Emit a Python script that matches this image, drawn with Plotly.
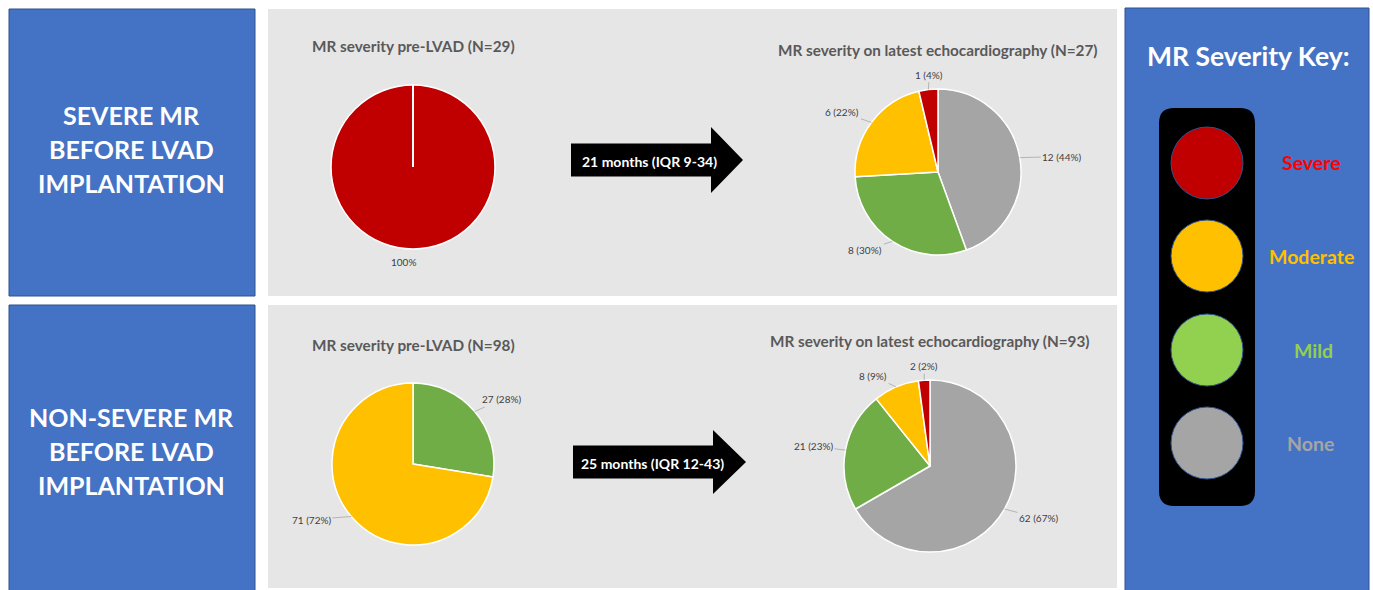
import math
import plotly.graph_objects as go

W, H = 1373, 590

# ---- data -------------------------------------------------------------
severe_pre_labels = ["Severe"]
severe_pre_counts = [29]

severe_latest_labels = ["None", "Mild", "Moderate", "Severe"]
severe_latest_counts = [12, 8, 6, 1]

nonsevere_pre_labels = ["Mild", "Moderate"]
nonsevere_pre_counts = [27, 71]

nonsevere_latest_labels = ["None", "Mild", "Moderate", "Severe"]
nonsevere_latest_counts = [62, 21, 8, 2]

pie_titles = [
    "MR severity pre-LVAD (N=29)",
    "MR severity on latest echocardiography (N=27)",
    "MR severity pre-LVAD (N=98)",
    "MR severity on latest echocardiography (N=93)",
]
followup_texts = ["21 months (IQR 9-34)", "25 months (IQR 12-43)"]
row_headers = [
    ["SEVERE MR", "BEFORE LVAD", "IMPLANTATION"],
    ["NON-SEVERE MR", "BEFORE LVAD", "IMPLANTATION"],
]
key_levels = ["Severe", "Moderate", "Mild", "None"]

# ---- styles -----------------------------------------------------------
FONT = "Lato"
BLUE = "#4472C4"
BLUE_EDGE = "#2F528F"
PANEL = "#E7E6E6"
TITLE_GREY = "#595959"
LABEL_GREY = "#404040"
LEADER = "#A6A6A6"
slice_colors = {"Severe": "#C00000", "Moderate": "#FFC000", "Mild": "#70AD47", "None": "#A5A5A5"}
key_fill = {"Severe": "#C00000", "Moderate": "#FFC000", "Mild": "#92D050", "None": "#A5A5A5"}
key_font = {"Severe": "#FF0000", "Moderate": "#FFC000", "Mild": "#92D050", "None": "#A5A5A5"}


def fx(x):
    return x / W


def fy(y):
    return 1 - y / H


def label(x, y, text, size, color, bold=False, **kw):
    """Centred text placed at pixel position (x, y)."""
    font = dict(family=FONT, size=size, color=color)
    if bold:
        font["weight"] = "bold"
    d = dict(x=fx(x), y=fy(y), xref="paper", yref="paper", text=text,
             showarrow=False, xanchor="center", yanchor="middle", font=font)
    d.update(kw)
    return d


# pie layout: centre (px), radius (px), title y, label offsets (px) per slice
pies = [
    dict(labels=severe_pre_labels, values=severe_pre_counts, cx=413, cy=167, r=82,
         title_y=46, offsets=[(-10, 13)], pct_only=True),
    dict(labels=severe_latest_labels, values=severe_latest_counts, cx=938, cy=172, r=83,
         title_y=50, offsets=[(42, -1), (-27, 9), (-29, -10), (1, -15)], pct_only=False),
    dict(labels=nonsevere_pre_labels, values=nonsevere_pre_counts, cx=413, cy=464, r=81,
         title_y=345, offsets=[(27, -12), (-40, 3)], pct_only=False),
    dict(labels=nonsevere_latest_labels, values=nonsevere_latest_counts, cx=930, cy=466, r=86,
         title_y=341, offsets=[(34, 9), (-32, -4), (-23, -11), (0, -14)], pct_only=False),
]

fig = go.Figure()
shapes = []
annotations = []

# ---- background boxes ---------------------------------------------------
def rect(x0, y0, x1, y1, fill, line=None, layer="below"):
    shapes.append(dict(type="rect", xref="paper", yref="paper",
                       x0=fx(x0), x1=fx(x1), y0=fy(y1), y1=fy(y0),
                       fillcolor=fill,
                       line=dict(color=line or fill, width=1 if line else 0),
                       layer=layer))

rect(9, 9, 255, 296, BLUE, BLUE_EDGE)
rect(9, 305, 255, 591, BLUE, BLUE_EDGE)
rect(268, 9, 1117, 296, PANEL)
rect(268, 305, 1117, 588, PANEL)
rect(1125, 8, 1369, 591, BLUE, BLUE_EDGE)

# ---- row headers --------------------------------------------------------
header_rows_y = [[115, 149, 183], [417, 451, 485]]
for lines, ys in zip(row_headers, header_rows_y):
    for txt, yy in zip(lines, ys):
        annotations.append(label(131, yy, txt, 25, "white", bold=True))

# ---- pies ---------------------------------------------------------------
for i, p in enumerate(pies):
    cx, cy, r = p["cx"], p["cy"], p["r"]
    fig.add_trace(go.Pie(
        labels=p["labels"], values=p["values"], sort=False, direction="clockwise",
        rotation=0, textinfo="none", hoverinfo="label+value+percent",
        marker=dict(colors=[slice_colors[l] for l in p["labels"]],
                    line=dict(color="white", width=1.5)),
        domain=dict(x=[fx(cx - r), fx(cx + r)], y=[fy(cy + r), fy(cy - r)]),
        showlegend=False,
    ))
    annotations.append(label(cx, p["title_y"], pie_titles[i], 15.3, TITLE_GREY, bold=True))

    total = sum(p["values"])
    cum = 0
    for v, (ox, oy) in zip(p["values"], p["offsets"]):
        mid = (cum + v / 2) / total * 2 * math.pi
        cum += v
        ex = cx + r * math.sin(mid)
        ey = cy - r * math.cos(mid)
        pct = round(100 * v / total)
        if p["pct_only"]:
            annotations.append(label(ex + ox, ey + oy, f"{pct}%", 10, LABEL_GREY))
        else:
            annotations.append(dict(x=fx(ex), y=fy(ey), xref="paper", yref="paper",
                                    text=f"{v} ({pct}%)", showarrow=True, arrowhead=0,
                                    arrowwidth=0.8, arrowcolor=LEADER, ax=ox, ay=oy,
                                    font=dict(family=FONT, size=10, color=LABEL_GREY)))

# white seam at the start of the single full slice
p0 = pies[0]
shapes.append(dict(type="line", xref="paper", yref="paper",
                   x0=fx(p0["cx"]), y0=fy(p0["cy"]), x1=fx(p0["cx"]), y1=fy(p0["cy"] - p0["r"]),
                   line=dict(color="white", width=2), layer="above"))

# ---- follow-up arrows ---------------------------------------------------
arrows = [
    dict(x0=571, x1=711, tip=743, yc=160, body=16.5, head=33, tx=649),
    dict(x0=573, x1=713, tip=746, yc=462, body=16.5, head=32, tx=652),
]
for a, txt in zip(arrows, followup_texts):
    pts = [(a["x0"], a["yc"] - a["body"]), (a["x1"], a["yc"] - a["body"]),
           (a["x1"], a["yc"] - a["head"]), (a["tip"], a["yc"]),
           (a["x1"], a["yc"] + a["head"]), (a["x1"], a["yc"] + a["body"]),
           (a["x0"], a["yc"] + a["body"])]
    path = "M " + " L ".join(f"{fx(x):.5f},{fy(y):.5f}" for x, y in pts) + " Z"
    shapes.append(dict(type="path", xref="paper", yref="paper", path=path,
                       fillcolor="black", line=dict(color="black", width=0), layer="above"))
    annotations.append(label(a["tx"], a["yc"] + 1, txt, 14, "white", bold=True))

# ---- severity key -------------------------------------------------------
annotations.append(label(1248, 56, "MR Severity Key:", 26.5, "white", bold=True))

bx0, bx1, by0, by1, rr = 1159, 1255, 108, 506, 15
corner = [
    (bx0 + rr, by0), (bx1 - rr, by0), ("Q", bx1, by0, bx1, by0 + rr),
    (bx1, by1 - rr), ("Q", bx1, by1, bx1 - rr, by1),
    (bx0 + rr, by1), ("Q", bx0, by1, bx0, by1 - rr),
    (bx0, by0 + rr), ("Q", bx0, by0, bx0 + rr, by0),
]
segs = []
for k, c in enumerate(corner):
    if c[0] == "Q":
        segs.append(f"Q {fx(c[1]):.5f},{fy(c[2]):.5f} {fx(c[3]):.5f},{fy(c[4]):.5f}")
    else:
        segs.append(("M " if k == 0 else "L ") + f"{fx(c[0]):.5f},{fy(c[1]):.5f}")
shapes.append(dict(type="path", xref="paper", yref="paper", path=" ".join(segs) + " Z",
                   fillcolor="black", line=dict(color="black", width=0), layer="above"))

lamp_y = [163, 256, 350, 443]
label_x = [1311, 1311, 1313, 1310]
for lvl, ly, lx in zip(key_levels, lamp_y, label_x):
    shapes.append(dict(type="circle", xref="paper", yref="paper",
                       x0=fx(1171), x1=fx(1243), y0=fy(ly + 36), y1=fy(ly - 36),
                       fillcolor=key_fill[lvl], line=dict(color=BLUE_EDGE, width=1),
                       layer="above"))
    annotations.append(label(lx, ly, lvl, 19.5, key_font[lvl], bold=True))

fig.update_layout(
    width=W, height=H, autosize=False,
    margin=dict(l=0, r=0, t=0, b=0),
    paper_bgcolor="white", plot_bgcolor="white",
    shapes=shapes, annotations=annotations,
)

fig.write_html("out.html")
